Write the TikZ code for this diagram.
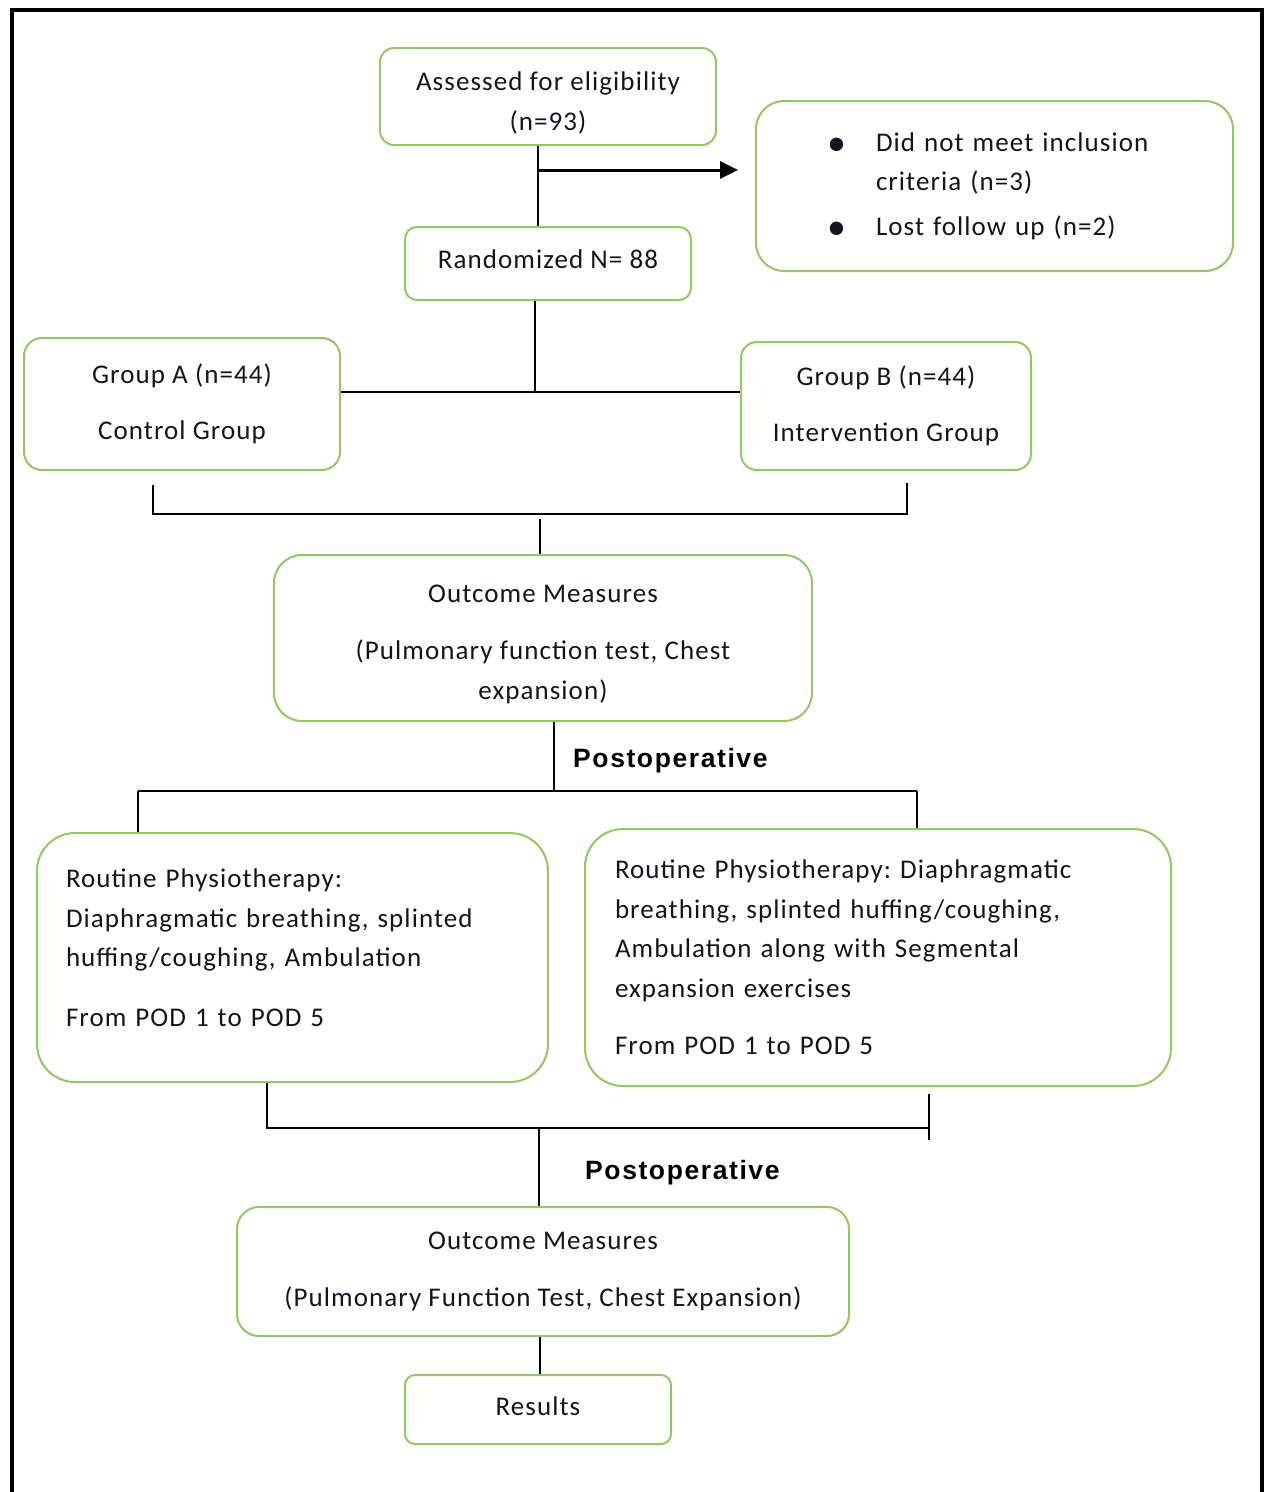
\documentclass[tikz,border=0pt]{standalone}
\usepackage{fontspec}
\setmainfont{Carlito}[LetterSpace=4]
\newfontfamily\postfont{Liberation Sans}[LetterSpace=6]
\usetikzlibrary{arrows.meta}
\definecolor{boxgreen}{RGB}{146,200,100}
\definecolor{txt}{RGB}{20,20,30}
\newcommand{\bigbul}{\raisebox{-4pt}{\fontsize{38}{38}\selectfont\textbullet}}
\frenchspacing
\tikzset{
  gbox/.style={draw=boxgreen, line width=2pt, align=center, inner sep=0pt, text=txt,
    font=\frenchspacing\fontsize{27}{39.5}\selectfont},
  conn/.style={draw=black, line width=2pt},
  postlab/.style={font=\postfont\bfseries\fontsize{26.5}{30}\selectfont, anchor=west, inner sep=0pt},
}
\begin{document}
\begin{tikzpicture}[x=1pt,y=-1pt]
\useasboundingbox (0,0) rectangle (1264,1492);
\draw[line width=4pt] (12,1500) -- (12,10) -- (1262,10) -- (1262,1500);

% boxes
\node[gbox, rounded corners=14pt, minimum width=336pt, minimum height=97pt] (b1) at (548,96.5)
  {\mbox{}\\[-7.5pt]Assessed for eligibility\\(n=93)};
\node[gbox, rounded corners=28pt, minimum width=477pt, minimum height=170pt, text width=477pt, align=left] (excl) at (994.5,186)
  {\hspace*{71pt}\makebox[49pt][l]{\bigbul}Did not meet inclusion\\
   \hspace*{120pt}criteria (n=3)\\[5pt]
   \hspace*{71pt}\makebox[49pt][l]{\bigbul}Lost follow up (n=2)};
\node[gbox, rounded corners=12pt, minimum width=286pt, minimum height=73pt] (rnd) at (548,263.5)
  {\raisebox{9pt}{Randomized N= 88}};
\node[gbox, rounded corners=18pt, minimum width=316pt, minimum height=132pt] (gA) at (182,404)
  {Group A (n=44)\\[16pt]Control Group};
\node[gbox, rounded corners=16pt, minimum width=290pt, minimum height=128pt] (gB) at (886,406)
  {Group B (n=44)\\[16pt]Intervention Group};
\node[gbox, rounded corners=28pt, minimum width=538pt, minimum height=166pt] (om1) at (543,638)
  {\mbox{}\\[-9.5pt]Outcome Measures\\[18pt](Pulmonary function test, Chest\\expansion)};
\node[gbox, rounded corners=38pt, minimum width=511pt, minimum height=249pt, text width=453pt, inner xsep=29pt, align=left] (rt1) at (292.5,957.5)
  {Routine Physiotherapy:\\Diaphragmatic breathing, splinted\\huffing/coughing, Ambulation\\[20pt]From POD 1 to POD 5\\[-19.5pt]\mbox{}};
\node[gbox, rounded corners=38pt, minimum width=586pt, minimum height=257pt, text width=526pt, inner xsep=30pt, align=left] (rt2) at (878,957.5)
  {Routine Physiotherapy: Diaphragmatic\\breathing, splinted huffing/coughing,\\Ambulation along with Segmental\\expansion exercises\\[18pt]From POD 1 to POD 5};
\node[gbox, rounded corners=22pt, minimum width=612pt, minimum height=129pt] (om2) at (543,1271.5)
  {Outcome Measures\\[18pt](Pulmonary Function Test, Chest Expansion)};
\node[gbox, rounded corners=10pt, minimum width=266pt, minimum height=69pt] (res) at (538,1409.5)
  {\raisebox{7pt}{Results}};

% labels
\node[postlab] (post1) at (573,761) {Postoperative};
\node[postlab] (post2) at (585,1173) {Postoperative};

% connectors
\coordinate (j1) at (538,170);
\draw[conn] (b1.south -| j1) -- (rnd.north -| j1);
\draw[line width=3pt, -{Triangle[length=18pt,width=17pt]}, shorten >=17pt] (j1) -- (excl.west |- j1);

\coordinate (j2) at (535,392);
\draw[conn] (rnd.south -| j2) -- (j2);
\draw[conn] (gA.east |- j2) -- (gB.west |- j2);

\coordinate (bAtop) at (153,485);
\coordinate (bA) at (153,514);
\coordinate (bB) at (907,514);
\coordinate (bBtop) at (907,483);
\coordinate (bM) at (540,519);
\draw[conn] (bAtop) -- (bA) -- (bB) -- (bBtop);
\draw[conn] (bM) -- (om1.north -| bM);

\coordinate (j3) at (554,791);
\coordinate (j3L) at (138,791);
\coordinate (j3R) at (917,791);
\draw[conn] (om1.south -| j3) -- (j3);
\draw[conn] (j3L) -- (j3R);
\draw[conn] (j3L) -- (rt1.north -| j3L);
\draw[conn] (j3R) -- (rt2.north -| j3R);

\coordinate (cL) at (267,1128);
\coordinate (cR) at (929,1128);
\coordinate (cRtop) at (929,1094);
\coordinate (cRbot) at (929,1140);
\coordinate (cM) at (539,1128);
\draw[conn] (rt1.south -| cL) -- (cL) -- (cR);
\draw[conn] (cRtop) -- (cRbot);
\draw[conn] (cM) -- (om2.north -| cM);

\coordinate (j4) at (540,1336);
\draw[conn] (om2.south -| j4) -- (res.north -| j4);
\end{tikzpicture}
\end{document}
